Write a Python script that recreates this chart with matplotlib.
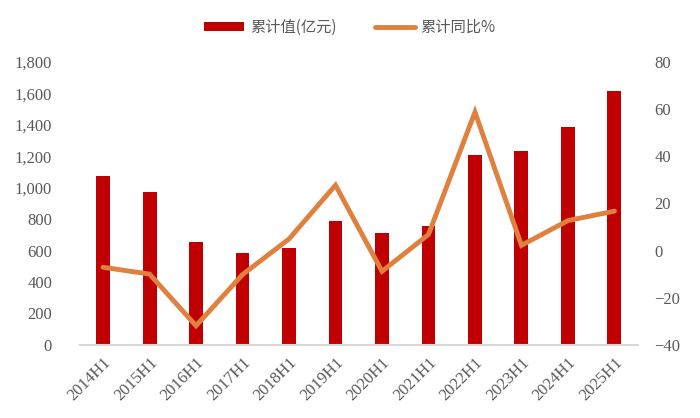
import matplotlib
matplotlib.use('Agg')
import matplotlib.pyplot as plt
import numpy as np
from matplotlib.ticker import FuncFormatter

# data
periods = ['2014H1', '2015H1', '2016H1', '2017H1', '2018H1', '2019H1',
           '2020H1', '2021H1', '2022H1', '2023H1', '2024H1', '2025H1']
cum_value = [1077, 973, 656, 586, 613, 789, 710, 757, 1208, 1231, 1387, 1616]
cum_yoy = [-7.1, -10.0, -31.9, -10.2, 4.9, 27.7, -8.8, 6.8, 58.7, 2.2, 12.7, 16.7]

bar_color = '#C00000'
line_color = '#E0803E'
text_color = '#595959'
serif = ['Liberation Serif', 'DejaVu Serif']
cjk = ['Noto Sans CJK SC', 'DejaVu Sans']

fig = plt.figure(figsize=(7, 4.18), dpi=100)
ax = fig.add_axes([0.114, 0.175, 0.797, 0.677])
ax2 = ax.twinx()

x = np.arange(len(periods))
bars = ax.bar(x, cum_value, width=0.3, color=bar_color, label='累计值(亿元)', zorder=2)
line, = ax2.plot(x, cum_yoy, color=line_color, lw=3.5, solid_capstyle='round',
                 solid_joinstyle='miter', label='累计同比%', zorder=3)

ax.set_xlim(-0.5, len(periods) - 0.5)
ax.set_ylim(0, 1800)
ax.set_yticks(np.arange(0, 1801, 200))
ax.yaxis.set_major_formatter(FuncFormatter(lambda v, p: f'{int(v):,}'))
ax2.set_ylim(-40, 80)
ax2.set_yticks(np.arange(-40, 81, 20))
ax2.yaxis.set_major_formatter(FuncFormatter(lambda v, p: f'{int(v)}'.replace('-', '\u2212')))

ax.set_xticks(x)
ax.set_xticklabels(periods, rotation=45, ha='right', rotation_mode='anchor')

for a in (ax, ax2):
    for s in a.spines.values():
        s.set_visible(False)
    a.tick_params(length=0, colors=text_color, labelsize=12)
    for lab in a.get_yticklabels() + a.get_xticklabels():
        lab.set_family(serif)
ax.spines['bottom'].set_visible(True)
ax.spines['bottom'].set_color('#D9D9D9')
ax.spines['bottom'].set_linewidth(1.5)
ax.tick_params(axis='y', pad=20)
ax.tick_params(axis='x', labelsize=12, pad=7)
ax2.tick_params(axis='y', pad=12)

ax2.set_zorder(ax.get_zorder() + 1)
ax2.patch.set_visible(False)

leg = fig.legend([bars, line], ['累计值(亿元)', '累计同比%'], loc='center',
                 bbox_to_anchor=(0.5, 0.935), ncol=2, frameon=False,
                 prop={'family': cjk, 'size': 11}, handlelength=2.6,
                 handleheight=0.5, columnspacing=2.5, handletextpad=0.4)
for t in leg.get_texts():
    t.set_color(text_color)

plt.savefig('out.png', dpi=100)
